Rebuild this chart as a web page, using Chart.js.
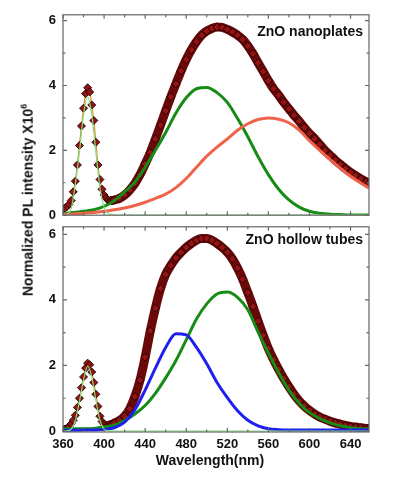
<!DOCTYPE html>
<html>
<head>
<meta charset="utf-8">
<script src="https://cdn.jsdelivr.net/npm/chart.js@4.4.0/dist/chart.umd.min.js"></script>
<style>
    body { margin: 0; background: #fff; }
    #wrap { position: relative; width: 395px; height: 481px; overflow: hidden; font-family: Arial, "Liberation Sans", sans-serif; color: #111; }
    #chart-top { position: absolute; left: 0; top: 0; }
    #chart-bottom { position: absolute; left: 0; top: 212px; }
    .ytitle { position: absolute; left: 27px; top: 200px; transform: translate(-50%, -50%) rotate(-90deg); white-space: nowrap; font-weight: bold; font-size: 14px; }
    .ytitle sup { font-size: 9px; }
    .xtitle { position: absolute; left: 210px; top: 460px; transform: translate(-50%, -50%); white-space: nowrap; font-weight: bold; font-size: 14px; }
</style>
</head>
<body>
<div id="wrap">
    <canvas id="chart-top" width="395" height="230"></canvas>
    <canvas id="chart-bottom" width="395" height="269"></canvas>
    <div class="ytitle">Normalized PL intensity X10<sup>6</sup></div>
    <div class="xtitle">Wavelength(nm)</div>
</div>
<script>
// measured spectra (wavelength in nm, intensity x10^6)
const dataX = [360, 362, 364, 366, 368, 370, 372, 374, 376, 378, 380, 382, 384, 386, 388, 390, 392, 394, 396, 398, 400, 402, 404, 406, 408, 410,
    415, 420, 425, 430, 435, 440, 445, 450, 455, 460, 465, 470, 475, 480, 485, 490, 495, 500, 505, 510, 515, 520, 525, 530,
    535, 540, 545, 550, 555, 560, 565, 570, 575, 580, 585, 590, 595, 600, 605, 610, 615, 620, 625, 630, 635, 640, 645, 650, 655, 658]

const nanoplatesData = [0.20, 0.22, 0.27, 0.34, 0.45, 0.72, 1.05, 1.55, 2.15, 2.75, 3.30, 3.75, 3.93, 3.80, 3.40, 2.92, 2.25, 1.55, 1.10, 0.80, 0.62, 0.52, 0.47, 0.45, 0.45, 0.47,
    0.52, 0.62, 0.78, 0.98, 1.25, 1.58, 1.93, 2.35, 2.78, 3.22, 3.65, 4.05, 4.45, 4.80, 5.10, 5.35, 5.55, 5.68, 5.76, 5.80, 5.79, 5.73, 5.65, 5.55,
    5.42, 5.22, 4.98, 4.70, 4.43, 4.15, 3.90, 3.70, 3.48, 3.28, 3.08, 2.90, 2.70, 2.52, 2.36, 2.18, 2.00, 1.85, 1.70, 1.57, 1.44, 1.32, 1.22, 1.12, 1.03, 0.98]

const hollowTubesData = [0.05, 0.06, 0.09, 0.14, 0.22, 0.33, 0.48, 0.72, 1.00, 1.32, 1.65, 1.92, 2.07, 2.02, 1.80, 1.48, 1.12, 0.75, 0.45, 0.29, 0.21, 0.18, 0.18, 0.19, 0.21, 0.24,
    0.32, 0.45, 0.68, 1.05, 1.55, 2.25, 3.05, 3.75, 4.35, 4.78, 5.05, 5.28, 5.45, 5.60, 5.72, 5.82, 5.87, 5.87, 5.82, 5.72, 5.60, 5.45, 5.25, 4.97,
    4.63, 4.22, 3.80, 3.35, 2.92, 2.52, 2.18, 1.88, 1.60, 1.35, 1.12, 0.92, 0.76, 0.63, 0.52, 0.43, 0.36, 0.30, 0.25, 0.21, 0.17, 0.14, 0.12, 0.10, 0.08, 0.08]

// gaussian fit components
const compX = [360, 370, 380, 390, 400, 410, 420, 430, 440, 450, 460, 470, 480, 490, 500, 510, 520, 530, 540, 550, 560, 570, 580, 590, 600, 610, 620, 630, 640, 650, 658]
const nanoplatesGreen = [0.05, 0.08, 0.12, 0.17, 0.27, 0.45, 0.72, 1.02, 1.48, 2.00, 2.55, 3.15, 3.62, 3.90, 3.94, 3.78, 3.48, 2.98, 2.42, 1.80, 1.25, 0.80, 0.47, 0.25, 0.12, 0.06, 0.03, 0.02, 0.01, 0.01, 0.01]
const nanoplatesRed = [0.03, 0.04, 0.06, 0.08, 0.12, 0.17, 0.22, 0.30, 0.40, 0.52, 0.65, 0.85, 1.13, 1.48, 1.82, 2.10, 2.35, 2.62, 2.82, 2.95, 3.00, 2.96, 2.85, 2.62, 2.30, 2.00, 1.72, 1.45, 1.20, 0.99, 0.84]
const hollowGreen = [0.07, 0.07, 0.07, 0.08, 0.12, 0.18, 0.32, 0.52, 0.78, 1.15, 1.62, 2.15, 2.78, 3.42, 3.88, 4.18, 4.24, 4.08, 3.70, 3.02, 2.38, 1.78, 1.25, 0.85, 0.56, 0.38, 0.25, 0.16, 0.10, 0.07, 0.06]
const hollowBlue = [0.02, 0.02, 0.03, 0.03, 0.05, 0.10, 0.27, 0.65, 1.25, 1.92, 2.55, 2.97, 2.93, 2.55, 2.05, 1.48, 1.02, 0.62, 0.33, 0.16, 0.07, 0.04, 0.03, 0.03, 0.03, 0.03, 0.03, 0.03, 0.03, 0.03, 0.03]

// near band edge (UV) component
const uvX = [360, 364, 368, 372, 376, 380, 384, 388, 392, 396, 400, 404, 410, 658]
const nanoplatesUV = [0, 0.03, 0.20, 0.95, 1.95, 3.10, 3.65, 3.10, 1.95, 0.85, 0.25, 0.05, 0, 0]
const hollowUV = [0, 0.01, 0.06, 0.32, 0.90, 1.55, 1.98, 1.65, 0.95, 0.32, 0.06, 0.01, 0, 0]

const xTicks = [360, 400, 440, 480, 520, 560, 600, 640]
const yTicks = [0, 2, 4, 6]

function pts(xs, ys) {
    return xs.map((x, i) => ({ x: x, y: ys[i] }))
}

function line(xs, ys, color, width, order) {
    return {
        data: pts(xs, ys),
        borderColor: color,
        borderWidth: width,
        pointRadius: 0,
        cubicInterpolationMode: 'monotone',
        order: order
    }
}

function buildDatasets(spectrum, components, uv) {
    let sets = []
    // measured points, dense band above 404 nm
    sets.push({
        data: pts(dataX, spectrum),
        borderWidth: 9,
        segment: {
            borderColor: ctx => ctx.p0.parsed.x >= 404 ? '#6a0909' : 'rgba(0,0,0,0)'
        },
        pointStyle: 'rectRot',
        pointRadius: 4,
        pointBackgroundColor: '#961313',
        pointBorderColor: '#1a0000',
        pointBorderWidth: 0.9,
        cubicInterpolationMode: 'monotone',
        order: 3
    })
    // cumulative fit under the markers
    sets.push(line(dataX, spectrum, '#e3892c', 1.2, 4))
    for (let i = 0; i < components.length; i++) {
        sets.push(line(compX, components[i].values, components[i].color, 3, 1))
    }
    sets.push(line(uvX, uv, '#7fe27f', 1.2, 0))
    return sets
}

const framePlugin = {
    id: 'frame',
    afterDraw(chart, args, opts) {
        const ctx = chart.ctx
        const a = chart.chartArea
        const x = chart.scales.x
        const y = chart.scales.y
        ctx.save()
        ctx.strokeStyle = '#666'
        ctx.lineWidth = 1.2
        ctx.strokeRect(a.left, a.top, a.right - a.left, a.bottom - a.top)
        ctx.beginPath()
        for (let v = 360; v <= 658; v += 20) {
            const px = x.getPixelForValue(v)
            const len = v % 40 === 0 ? 4 : 2.5
            ctx.moveTo(px, a.bottom); ctx.lineTo(px, a.bottom - len)
            ctx.moveTo(px, a.top); ctx.lineTo(px, a.top + len)
        }
        for (let v = 0; v <= 6; v++) {
            const py = y.getPixelForValue(v)
            const len = v % 2 === 0 ? 4 : 2.5
            ctx.moveTo(a.left, py); ctx.lineTo(a.left + len, py)
            ctx.moveTo(a.right, py); ctx.lineTo(a.right - len, py)
        }
        ctx.stroke()
        ctx.font = 'bold 14px Arial, "Liberation Sans", sans-serif'
        ctx.fillStyle = '#111'
        ctx.textAlign = 'right'
        ctx.textBaseline = 'middle'
        ctx.fillText(opts.label, a.right - 6, a.top + opts.dy)
        ctx.restore()
    }
}

function makeChart(canvasId, datasets, cfg) {
    const tickFont = { family: 'Arial, "Liberation Sans", sans-serif', size: 13, weight: 'bold' }
    return new Chart(document.getElementById(canvasId).getContext('2d'), {
        type: 'line',
        data: { datasets: datasets },
        plugins: [framePlugin],
        options: {
            responsive: false,
            animation: false,
            events: [],
            layout: { padding: cfg.padding },
            plugins: {
                legend: { display: false },
                tooltip: { enabled: false },
                frame: { label: cfg.label, dy: cfg.dy }
            },
            scales: {
                x: {
                    type: 'linear',
                    min: 360,
                    max: 658,
                    grid: { display: false, drawTicks: false },
                    border: { display: false },
                    afterBuildTicks: scale => { scale.ticks = xTicks.map(v => ({ value: v })) },
                    afterFit: scale => { scale.height = cfg.xHeight },
                    ticks: {
                        display: cfg.showX,
                        autoSkip: false,
                        maxRotation: 0,
                        padding: 5,
                        color: '#111',
                        font: tickFont
                    }
                },
                y: {
                    min: cfg.yMin,
                    max: cfg.yMax,
                    grid: { display: false, drawTicks: false },
                    border: { display: false },
                    afterBuildTicks: scale => { scale.ticks = yTicks.map(v => ({ value: v })) },
                    afterFit: scale => { scale.width = 63 },
                    ticks: {
                        padding: 7,
                        color: '#111',
                        font: tickFont
                    }
                }
            }
        }
    })
}

makeChart('chart-top',
    buildDatasets(nanoplatesData, [
        { values: nanoplatesRed, color: '#f0634b' },
        { values: nanoplatesGreen, color: '#168c16' }
    ], nanoplatesUV),
    { padding: { left: 0, right: 26, top: 11, bottom: 8 }, xHeight: 0, showX: false, yMin: 0, yMax: 6.18, label: 'ZnO nanoplates', dy: 17 })

makeChart('chart-bottom',
    buildDatasets(hollowTubesData, [
        { values: hollowBlue, color: '#1f1ff0' },
        { values: hollowGreen, color: '#168c16' }
    ], hollowUV),
    { padding: { left: 0, right: 26, top: 10, bottom: 0 }, xHeight: 49, showX: true, yMin: -0.03, yMax: 6.23, label: 'ZnO hollow tubes', dy: 13 })
</script>
</body>
</html>
